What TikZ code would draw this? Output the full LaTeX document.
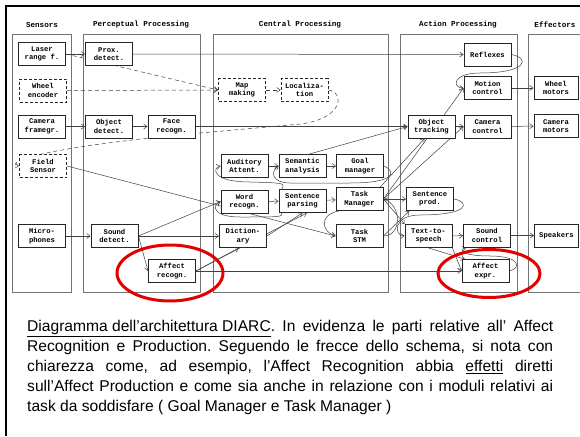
\documentclass[tikz,border=0pt]{standalone}
\usepackage{fontspec}
\setmainfont{Liberation Sans}
\newfontfamily\boxfont{Liberation Mono}
\usetikzlibrary{arrows.meta, positioning, calc, backgrounds}

\begin{document}
\frenchspacing
\begin{tikzpicture}[
  x=1pt, y=-1pt,
  module/.style={draw=black!85, line width=0.9pt, fill=white, minimum width=47pt,
                 minimum height=23pt, inner sep=0pt, align=center,
                 font=\boxfont\bfseries\fontsize{7.2}{8.5}\selectfont},
  effbox/.style={module, minimum width=44pt},
  dmodule/.style={module, dash pattern=on 3pt off 2pt},
  column/.style={draw=black!55, line width=0.6pt},
  head/.style={font=\boxfont\bfseries\fontsize{7.6}{9}\selectfont},
  arr/.style={-{Straight Barb[length=3.5pt,width=5pt]}, draw=black!75, line width=0.5pt},
  darr/.style={arr, dash pattern=on 4pt off 3pt},
  ring/.style={draw=red!90!black, line width=3pt},
  caption/.style={anchor=north west, text width=526pt, align=justify, inner sep=0pt,
                  font=\fontsize{15.6}{20}\selectfont}
]
\useasboundingbox (0,0) rectangle (580,436);

%% Column headers
\node[head] (hsens) at (42,25)  {Sensors};
\node[head] (hperc) at (141,25) {Perceptual Processing};
\node[head] (hcent) at (300,25) {Central Processing};
\node[head] (hact)  at (458,25) {Action Processing};
\node[head] (heff)  at (555,25) {Effectors};

%% Sensors
\node[module]  (laser)  at (42,54)    {Laser\\range f.};
\node[dmodule] (wheel)  at (43,90.5)  {Wheel\\encoder};
\node[module]  (camera) at (42,126.5) {Camera\\framegr.};
\node[dmodule] (field)  at (43,166)   {Field\\Sensor};
\node[module]  (micro)  at (42,236)   {Micro-\\phones};

%% Perceptual processing
\node[module] (prox)   at (109,54)    {Prox.\\detect.};
\node[module] (objdet) at (109,126.5) {Object\\detect.};
\node[module] (face)   at (171.5,126.5) {Face\\recogn.};
\node[module] (sound)  at (114.5,236) {Sound\\detect.};
\node[module] (affrec) at (172,271)   {Affect\\recogn.};

%% Central processing
\node[dmodule] (mapmk) at (242,90)    {Map\\making};
\node[dmodule] (local) at (304.5,90)  {Localiza-\\tion};
\node[module] (audit)  at (244.5,166) {Auditory\\Attent.};
\node[module] (seman)  at (302.5,166) {Semantic\\analysis};
\node[module] (goal)   at (360,166)   {Goal\\manager};
\node[module] (word)   at (244.5,201.5) {Word\\recogn.};
\node[module] (parse)  at (302.5,201) {Sentence\\parsing};
\node[module] (task)   at (359.5,199) {Task\\Manager};
\node[module] (dict)   at (243,236)   {Diction-\\ary};
\node[module] (stm)    at (359.5,236) {Task\\STM};

%% Action processing
\node[module] (reflex) at (487.5,54.5) {Reflexes};
\node[module] (motion) at (487.5,88)   {Motion\\control};
\node[module] (objtrk) at (431.5,126.5) {Object\\tracking};
\node[module] (camctl) at (487.5,126.5) {Camera\\control};
\node[module] (sprod)  at (430,199)   {Sentence\\prod.};
\node[module] (tts)    at (428.5,236) {Text-to-\\speech};
\node[module] (sndctl) at (487,235.5) {Sound\\control};
\node[module] (affexp) at (485.5,271) {Affect\\expr.};

%% Effectors
\node[effbox] (wmotor) at (556,88)    {Wheel\\motors};
\node[effbox] (cmotor) at (556,126)   {Camera\\motors};
\node[effbox] (speak)  at (556.5,235.5) {Speakers};

\begin{scope}[on background layer]
\fill[white] (0,0) rectangle (580,436);
%% slide frame
\draw[line width=2.6pt] (6,436) -- (6,6) -- (580,6);
%% columns
\draw[column] (12.5,34) rectangle (71.5,292);
\draw[column] (83,34) rectangle (200,292);
\draw[column] (213,34) rectangle (388,292);
\draw[column] (400,34) rectangle (517,292);
\draw[column] (590,34) -- (528,34) -- (528,292) -- (590,292);

%% sensor paths
\draw[arr] (laser) -- (prox);
\draw[arr] (camera) -- (objdet);
\draw[arr] (objdet) -- (face);
\draw[arr] (micro) -- (sound);
\draw[arr] (prox) -- (reflex);
\draw[arr] (face) -- (objtrk);

%% map and localization (dashed)
\draw[darr] (laser.east) -- (mapmk.west);
\draw[darr] (wheel) -- (mapmk);
\draw[darr] (mapmk) -- (local);
\draw[darr] (local.east) .. controls (345,92) and (345,122) .. (290,125)
  -- (200,133) .. controls (15,150) and (8,165) .. (field.west);

%% action side
\draw[arr] (reflex.east) .. controls (530,58) and (528,73) .. (480,73)
  .. controls (452,73) and (452,88) .. (motion.west);
\draw[arr] (objtrk) -- (camctl);
\draw[arr] (motion) -- (wmotor);
\draw[arr] (camctl) -- (cmotor);
\draw[arr] (seman.60) -- (objtrk.west);

%% speech input
\draw[arr] (field.east) -- (stm.west);
\draw[arr] (sound.east) -- (word.west);
\draw[arr] (sound.east) -- (dict.west);
\draw[arr] (sound.east) -- (affrec.west);
\draw[arr] (affrec.east) -- (dict.-110);
\draw[arr] (affrec.east) -- (parse.-70);
\draw[arr] (affrec.east) -- (affexp.west);

%% central loops
\draw[arr] (audit) -- (seman);
\draw[arr] (seman) -- (goal);
\draw[arr] (word) -- (parse);
\draw[arr] (parse) -- (task);
\draw[arr] (dict.east) -- (parse.south);
\draw[arr] (goal.east) .. controls (397,172) and (395,183) .. (350,183)
  -- (290,183) .. controls (272,183) and (270,172) .. (seman.west);
\draw[arr] (parse.150) .. controls (285,183) .. (250,182)
  .. controls (212,182) and (212,168) .. (audit.west);
\draw[arr] (parse.-150) .. controls (282,217) .. (240,217)
  .. controls (212,217) and (212,205) .. (word.west);
\draw[arr] (task.-150) .. controls (318,215) and (322,232) .. (stm.west);
\draw[arr] (stm.east) .. controls (402,236) and (402,205) .. (task.east);

%% task manager outputs
\draw[arr] (task.east) -- (motion.west);
\draw[arr] (task.east) -- (camctl.west);
\draw[arr] (task.30) -- (objtrk.-120);
\draw[arr] (task.east) -- (sprod.west);
\draw[arr] (task.east) -- (tts.north west);
\draw[arr] (stm.east) -- (sprod.-150);
\draw[arr] (sprod.east) .. controls (470,202) and (470,215) .. (420,215)
  .. controls (392,215) and (394,236) .. (tts.west);
\draw[arr] (tts) -- (sndctl);
\draw[arr] (tts.south east) -- (affexp.west);
\draw[arr] (tts.south) -- (affexp.150);
\draw[arr] (affexp.east) .. controls (522,268) and (520,256) .. (490,256)
  .. controls (462,256) and (458,250) .. (sndctl.-150);
\draw[arr] (sndctl) -- (speak);
\end{scope}

%% highlighted affect modules
\draw[ring] (170,273) ellipse [x radius=53pt, y radius=28pt];
\draw[ring] (489,273.5) ellipse [x radius=51pt, y radius=24pt];

%% caption
\node[caption] (cap) at (27,320) {\underline{Diagramma dell’architettura DIARC}. In evidenza le parti relative all’ Affect\linebreak
Recognition e Production. Seguendo le frecce dello schema, si nota con\linebreak
chiarezza come, ad esempio, l’Affect Recognition abbia \underline{effetti} diretti\linebreak
sull’Affect Production e come sia anche in relazione con i moduli relativi ai\linebreak
task da soddisfare ( Goal Manager e Task Manager )};
\end{tikzpicture}
\end{document}
